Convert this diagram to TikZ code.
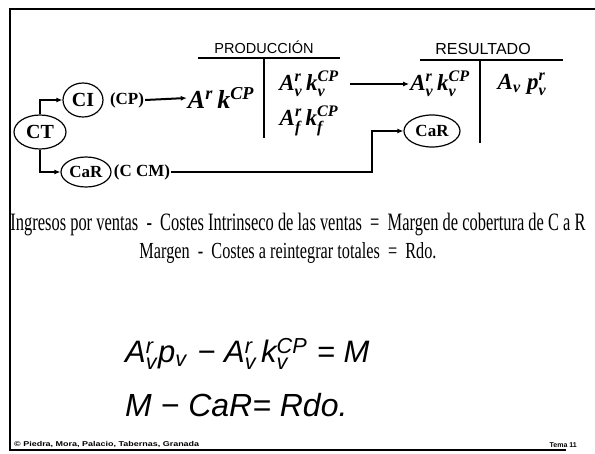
\documentclass[tikz,border=0pt]{standalone}
\usepackage{fontspec}
\usepackage{amsmath}
\usepackage{graphicx}
\setmainfont{Liberation Serif}
\setsansfont{Liberation Sans}
\usetikzlibrary{arrows.meta,shapes.geometric}
\newcommand{\fs}[1]{\fontsize{#1}{#1}\selectfont}
\begin{document}
\begin{tikzpicture}[x=1pt,y=-1pt,
  ell/.style={draw, ellipse, line width=1.2pt, inner sep=0pt, font=\bfseries\fs{20}},
  lab/.style={inner sep=1pt, font=\bfseries\fs{17}},
  mth/.style={inner sep=1pt, font=\bfseries\itshape\fs{23}},
  hdr/.style={inner sep=0pt, font=\sffamily\fs{14.5}},
  tline/.style={line width=2.8pt},
  arr/.style={-{Latex[length=6pt,width=5pt]}, line width=2pt},
  txt/.style={inner sep=0pt, font=\fs{25}},
  eqn/.style={inner sep=0pt, font=\sffamily\itshape\fs{31}},
  foot/.style={inner sep=0pt, font=\sffamily\bfseries\fs{7}}]
\useasboundingbox (0,0) rectangle (595,453);
\fill[white] (0,0) rectangle (595,453);
% frame
\draw[line width=2.8pt] (595,9) -- (10,9) -- (10,450) -- (566,450);

% left part
\node[ell, minimum width=52pt, minimum height=34pt] (CT) at (40,132) {CT};
\node[ell, minimum width=40pt, minimum height=34pt] (CI) at (83,100) {CI};
\node[ell, minimum width=50pt, minimum height=30pt, font=\bfseries\fs{17}] (CaRa) at (86,172) {CaR};
\node[lab] (CP) at (127,100) {(CP)};
\node[lab] (CCM) at (142,172) {(C CM)};
\node[mth, font=\bfseries\itshape\fs{26}] (Ak) at (221,98) {A$^{\text{r}}$\,k$^{\text{CP}}$};
\draw[arr] (CT.north) |- (CI.west);
\draw[arr] (CT.south) |- (CaRa.west);
\draw[arr] (CP.east) -- (Ak.west);

% PRODUCCION account
\node[hdr] (prod) at (264,47) {PRODUCCIÓN};
\draw[tline] (198,58) -- (340,58);
\draw[tline] (264,58) -- (264,138);
\node[mth] (Av) at (309,84) {A$^{\text{r}}_{\text{v}}$\,k$^{\text{CP}}_{\text{v}}$};
\node[mth] (Af) at (309,121) {A$^{\text{r}}_{\text{f}}$\,k$^{\text{CP}}_{\text{f}}$};

% RESULTADO account
\node[hdr, font=\sffamily\fs{16}] (res) at (483,49) {RESULTADO};
\draw[tline] (420,60) -- (563,60);
\draw[tline] (480,60) -- (480,143);
\node[mth] (Avr) at (440,84) {A$^{\text{r}}_{\text{v}}$\,k$^{\text{CP}}_{\text{v}}$};
\node[mth] (Ap) at (522,84) {A$_{\text{v}}$\;p$^{\text{r}}_{\text{v}}$};
\node[ell, minimum width=56pt, minimum height=32pt, font=\bfseries\fs{17}] (CaRb) at (432,131) {CaR};

\draw[arr] ([xshift=10pt]Av.east) -- (Avr.west);
\draw[arr] (CCM.east) -- (372,172) |- (CaRb.west);

% text lines
\node[txt] (t1) at (298,225) {\resizebox{575pt}{\height}{Ingresos por ventas \ - \ Costes Intrinseco de las ventas \ = \ Margen de cobertura de C a R}};
\node[txt, font=\fs{23}] (t2) at (288,253) {\resizebox{297pt}{\height}{Margen \ - \ Costes a reintegrar totales \ = \ Rdo.}};

% equations
\node[eqn, anchor=west] (eq1) at (125,354) {A$^{\text{r}}_{\text{v}}$\kern1pt p$_{\text{v}}$\kern2pt{} − A$^{\text{r}}_{\text{v}}$\kern5pt k$^{\text{CP}}_{\text{v}}$ \kern1pt= M};
\node[eqn, anchor=west, font=\sffamily\itshape\fs{32}] (eq2) at (125,405) {M − CaR= Rdo.};

% footer
\node[foot, anchor=south west] (f1) at (14,448) {\resizebox{185pt}{\height}{© Piedra, Mora, Palacio, Tabernas, Granada}};
\node[foot, anchor=south east] (f2) at (577,448) {Tema 11};
\end{tikzpicture}
\end{document}
